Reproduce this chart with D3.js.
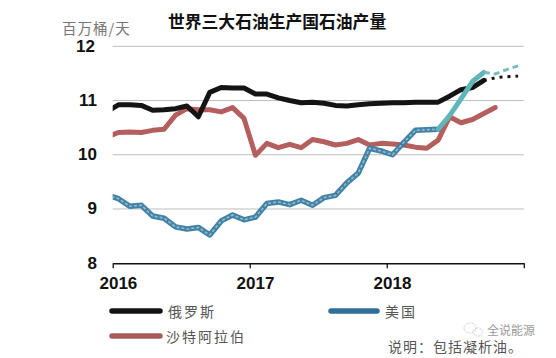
<!DOCTYPE html>
<html><head><meta charset="utf-8">
<script src="https://cdn.jsdelivr.net/npm/d3@7"></script>
<style>
html,body{margin:0;padding:0;background:#fff;}
svg{display:block;}
</style></head>
<body>
<svg id="chart" width="556" height="358"></svg>
<script>
// ---- data ----
const title = "世界三大石油生产国石油产量";
const unitLabel = "百万桶/天";
const note = "说明：包括凝析油。";
const watermark = "全说能源";
const yTicks = [8, 9, 10, 11, 12];
const xTickYears = ["2016", "2017", "2018"];
const seriesNames = ["俄罗斯", "美国", "沙特阿拉伯"];
// monthly values starting 2015-12
const startMonth = "2015-12";
const russia = [10.80,
  10.92, 10.92, 10.91, 10.82, 10.83, 10.85, 10.90, 10.70, 11.15, 11.24, 11.23, 11.23,
  11.12, 11.12, 11.05, 11.00, 10.96, 10.97, 10.95, 10.91, 10.90, 10.92, 10.94, 10.95,
  10.96, 10.96, 10.97, 10.97, 10.97, 11.08, 11.20, 11.24, 11.37];
const usa = [9.26,
  9.19, 9.05, 9.07, 8.87, 8.83, 8.67, 8.63, 8.66, 8.52, 8.78, 8.89, 8.80,
  8.85, 9.10, 9.13, 9.08, 9.16, 9.07, 9.21, 9.25, 9.48, 9.66, 10.12, 10.07,
  10.00, 10.23, 10.45, 10.46, 10.47, 10.72, 11.03, 11.35, 11.52];
const usRecentFrom = "2018-05";
const saudi = [10.33,
  10.41, 10.42, 10.41, 10.45, 10.47, 10.73, 10.85, 10.83, 10.83, 10.79, 10.87, 10.67,
  9.99, 10.21, 10.13, 10.19, 10.13, 10.28, 10.24, 10.18, 10.21, 10.28, 10.18, 10.21,
  10.20, 10.18, 10.14, 10.12, 10.27, 10.70, 10.59, 10.65, 10.76, 10.87];
// forecasts starting 2018-09
const forecastStart = "2018-09";
const russiaForecast = [11.37, 11.42, 11.44, 11.45];
const usForecast = [11.52, 11.49, 11.57, 11.64];

// ---- helpers ----
const parseM = d3.timeParse("%Y-%m");
function monthIdx(date){ return (date.getFullYear()-2016)*12 + date.getMonth(); }
function toPoints(start, values){
  const s = monthIdx(parseM(start));
  return values.map((v,i)=>({i: s+i, v}));
}

const svg = d3.select("#chart");
const x = d3.scaleLinear().domain([0, 36]).range([112.7, 523.8]);
const y = d3.scaleLinear().domain([8, 12]).range([263.2, 46.3]);
const line = d3.line().x(d=>x(d.i+0.5)).y(d=>y(d.v)).curve(d3.curveLinear);

const cjk = "'Noto Sans CJK SC','Noto Sans',sans-serif";
const latin = "'Liberation Sans',Arial,sans-serif";

// title & unit
svg.append("text").attr("x", 168).attr("y", 21).attr("dominant-baseline","central")
  .attr("font-family", cjk).attr("font-weight", "bold").attr("font-size", 16.8)
  .attr("fill", "#111").text(title);
svg.append("text").attr("x", 62).attr("y", 27).attr("dominant-baseline","central")
  .attr("font-family", cjk).attr("font-size", 14.5).attr("letter-spacing", 1)
  .attr("fill", "#777").text(unitLabel);

// gridlines
svg.append("g").selectAll("line").data(yTicks.filter(t=>t>8)).join("line")
  .attr("x1", x(0)).attr("x2", x(36))
  .attr("y1", d=>y(d)).attr("y2", d=>y(d))
  .attr("stroke", "#bdbdbd").attr("stroke-width", 1);

// y labels
svg.append("g").selectAll("text").data(yTicks).join("text")
  .attr("x", d=>d===12 ? 95 : 97).attr("y", d=>y(d)).attr("text-anchor","end").attr("dominant-baseline","central")
  .attr("font-family", latin).attr("font-weight","bold").attr("font-size", 17)
  .attr("fill", "#111").text(d=>d);

// x axis
const xAxis = d3.axisBottom(x).tickValues([0,12,24,36]).tickSize(5).tickSizeOuter(0).tickFormat("");
const gx = svg.append("g").attr("transform", `translate(0,${y(8)})`).call(xAxis);
gx.select(".domain").attr("stroke", "#111").attr("stroke-width", 1.5);
gx.selectAll(".tick line").attr("stroke", "#111").attr("stroke-width", 1.3);
svg.append("g").selectAll("text").data(xTickYears).join("text")
  .attr("x", (d,i)=>x(i*12+0.5)).attr("y", 283).attr("text-anchor","middle").attr("dominant-baseline","central")
  .attr("font-family", latin).attr("font-weight","bold").attr("font-size", 17)
  .attr("fill", "#111").text(d=>d);

// clip
svg.append("clipPath").attr("id","plot").append("rect")
  .attr("x", x(0)).attr("y", 30).attr("width", x(36)-x(0)+10).attr("height", y(8)-30);
const plot = svg.append("g").attr("clip-path","url(#plot)");

const usPts = toPoints(startMonth, usa);
const recentIdx = monthIdx(parseM(usRecentFrom));

// Saudi
plot.append("path").datum(toPoints(startMonth, saudi)).attr("d", line)
  .attr("fill","none").attr("stroke","#b45e5e").attr("stroke-width",5)
  .attr("stroke-linejoin","round").attr("stroke-linecap","round");
// Russia
plot.append("path").datum(toPoints(startMonth, russia)).attr("d", line)
  .attr("fill","none").attr("stroke","#141414").attr("stroke-width",5)
  .attr("stroke-linejoin","round").attr("stroke-linecap","round");
plot.append("path").datum(toPoints(forecastStart, russiaForecast)).attr("d", line)
  .attr("fill","none").attr("stroke","#141414").attr("stroke-width",3)
  .attr("stroke-dasharray","3,5");
// US main (textured)
const usMain = usPts.filter(d=>d.i<=recentIdx);
plot.append("path").datum(usMain).attr("d", line)
  .attr("fill","none").attr("stroke","#3a7ba0").attr("stroke-width",5.5).attr("opacity",0.95)
  .attr("stroke-linejoin","round").attr("stroke-linecap","round");
plot.append("path").datum(usMain).attr("d", line)
  .attr("fill","none").attr("stroke","#8dbdd4").attr("stroke-width",1.6)
  .attr("stroke-dasharray","3,2");
// US recent (teal)
plot.append("path").datum(usPts.filter(d=>d.i>=recentIdx)).attr("d", line)
  .attr("fill","none").attr("stroke","#5fb5b8").attr("stroke-width",5)
  .attr("stroke-linejoin","round").attr("stroke-linecap","round");
plot.append("path").datum(toPoints(forecastStart, usForecast)).attr("d", line)
  .attr("fill","none").attr("stroke","#7bbcbc").attr("stroke-width",3)
  .attr("stroke-dasharray","6,4");

// legend
const legend = [
  {name: seriesNames[0], color:"#141414", x1:112, x2:160, y:311, tx:168},
  {name: seriesNames[1], color:"#2f6f98", x1:331, x2:377, y:311, tx:385},
  {name: seriesNames[2], color:"#a85a5a", x1:112, x2:160, y:336, tx:166},
];
const lg = svg.append("g").selectAll("g").data(legend).join("g");
lg.append("line").attr("x1",d=>d.x1).attr("x2",d=>d.x2).attr("y1",d=>d.y).attr("y2",d=>d.y)
  .attr("stroke",d=>d.color).attr("stroke-width",5.5).attr("stroke-linecap","round");
lg.append("text").attr("x",d=>d.tx).attr("y",d=>d.y).attr("dominant-baseline","central")
  .attr("font-family", cjk).attr("font-size",14).attr("letter-spacing",2)
  .attr("fill","#555").text(d=>d.name);

// note
svg.append("text").attr("x", 388).attr("y", 346).attr("dominant-baseline","central")
  .attr("font-family", cjk).attr("font-size",14).attr("letter-spacing",1)
  .attr("fill","#555").text(note);

// watermark
const wm = svg.append("g").attr("opacity",0.75);
wm.append("ellipse").attr("cx",470).attr("cy",328).attr("rx",6).attr("ry",5)
  .attr("fill","none").attr("stroke","#aaa").attr("stroke-width",0.8).attr("stroke-dasharray","1.5,1");
wm.append("ellipse").attr("cx",478).attr("cy",332).attr("rx",5).attr("ry",4)
  .attr("fill","none").attr("stroke","#aaa").attr("stroke-width",0.8).attr("stroke-dasharray","1.5,1");
wm.append("text").attr("x", 487).attr("y", 329).attr("dominant-baseline","central")
  .attr("font-family", cjk).attr("font-size",12)
  .attr("fill","#777").text(watermark);
</script>
</body></html>
